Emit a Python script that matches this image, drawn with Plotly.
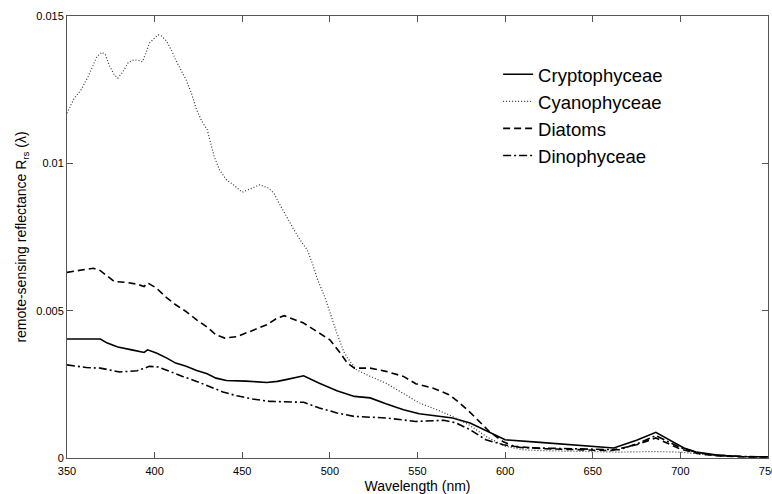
import plotly.graph_objects as go

# ---- data ----
crypto_x = [350, 369, 373, 379, 387, 394, 396, 401, 407, 412, 418, 424, 430, 435, 441, 452, 464, 470, 475, 485,
            494, 504, 514, 523, 532, 542, 551, 561, 570, 580, 591, 600, 618, 637, 662, 675, 686, 702, 709, 722, 735, 750]
crypto_y = [0.00404, 0.00404, 0.0039, 0.00377, 0.00367, 0.00358, 0.00367, 0.00356, 0.00339, 0.00322, 0.00311, 0.00297,
            0.00286, 0.00271, 0.00263, 0.00261, 0.00256, 0.0026, 0.00266, 0.00279, 0.00254, 0.00228, 0.00209, 0.00204,
            0.00184, 0.00164, 0.0015, 0.00143, 0.00136, 0.00119, 0.00087, 0.00062, 0.00054, 0.00045, 0.00034, 0.0006,
            0.00087, 0.00034, 0.0002, 0.00009, 0.00005, 0.00004]

cyano_x = [350, 354, 358, 362, 365, 367, 370, 372, 374, 377, 379, 382, 385, 388, 391, 393, 395, 397, 400, 402,
           404, 407, 410, 412, 415, 418, 421, 424, 427, 430, 432, 434, 437, 441, 445, 450, 454, 460, 465, 468,
           471, 475, 479, 483, 487, 490, 493, 497, 500, 504, 508, 510, 515, 523, 532, 542, 551, 561, 570, 580,
           590, 600, 610, 620, 650, 665, 686, 700, 720, 740, 750]
cyano_y = [0.0117, 0.0122, 0.01249, 0.01294, 0.01334, 0.01362, 0.01377, 0.01368, 0.01334, 0.0130, 0.01289, 0.01311,
           0.01343, 0.01351, 0.01349, 0.01345, 0.01374, 0.01408, 0.01425, 0.01436, 0.01432, 0.01413, 0.01379, 0.01351,
           0.01317, 0.01283, 0.01238, 0.01181, 0.01142, 0.01114, 0.01068, 0.01023, 0.00978, 0.00944, 0.00927, 0.00902,
           0.00912, 0.00927, 0.00916, 0.00899, 0.00865, 0.0082, 0.0078, 0.0074, 0.00707, 0.00661, 0.00605, 0.00548,
           0.00492, 0.00424, 0.0036, 0.0034, 0.003, 0.00277, 0.00254, 0.0022, 0.00187, 0.00164, 0.00141, 0.0011,
           0.0007, 0.0004, 0.00028, 0.00025, 0.00022, 0.0002, 0.00022, 0.0002, 0.00008, 0.00003, 0.00002]

diatom_x = [350, 357, 365, 369, 373, 377, 384, 390, 394, 396, 401, 407, 412, 418, 424, 430, 435, 440, 447, 454,
            464, 470, 474, 485, 494, 500, 506, 510, 514, 523, 532, 542, 549, 559, 568, 574, 580, 586, 591, 599,
            605, 620, 640, 660, 675, 686, 700, 710, 720, 735, 750]
diatom_y = [0.0063, 0.00636, 0.00644, 0.00636, 0.00616, 0.00599, 0.00596, 0.0059, 0.00582, 0.00594, 0.00577, 0.00543,
            0.0052, 0.00497, 0.00469, 0.00444, 0.00418, 0.00407, 0.00412, 0.00429, 0.00452, 0.00475, 0.00483, 0.00458,
            0.00424, 0.00401, 0.00356, 0.00322, 0.00305, 0.00305, 0.00294, 0.00277, 0.00252, 0.00237, 0.00215, 0.00187,
            0.00155, 0.00119, 0.0009, 0.00055, 0.0004, 0.00032, 0.00028, 0.00025, 0.00045, 0.00068, 0.0003, 0.00015,
            0.00008, 0.00004, 0.00003]

dino_x = [350, 361, 369, 380, 390, 397, 402, 409, 416, 424, 431, 439, 447, 456, 466, 485, 494, 504, 514, 532,
          549, 565, 572, 580, 589, 599, 610, 630, 650, 665, 676, 686, 700, 710, 720, 735, 750]
dino_y = [0.00316, 0.00307, 0.00305, 0.00292, 0.00296, 0.00311, 0.00309, 0.00292, 0.00277, 0.0026, 0.00243, 0.00224,
          0.00211, 0.002, 0.00192, 0.00189, 0.0017, 0.00153, 0.00141, 0.00136, 0.00124, 0.00128, 0.00119, 0.00096,
          0.00062, 0.00045, 0.00035, 0.00033, 0.0003, 0.00028, 0.0005, 0.00076, 0.00035, 0.00018, 0.0001, 0.00005,
          0.00004]

x_ticks = [350, 400, 450, 500, 550, 600, 650, 700, 750]
y_ticks = [0, 0.005, 0.01, 0.015]
y_tick_labels = ["0", "0.005", "0.01", "0.015"]

series = [
    ("Cryptophyceae", crypto_x, crypto_y, dict(color="black", width=1.6, dash="solid")),
    ("Cyanophyceae", cyano_x, cyano_y, dict(color="#333333", width=1.2, dash="1px,2px")),
    ("Diatoms", diatom_x, diatom_y, dict(color="black", width=1.6, dash="7px,4px")),
    ("Dinophyceae", dino_x, dino_y, dict(color="black", width=1.6, dash="8px,3px,2px,3px")),
]

fig = go.Figure()
for name, xs, ys, line in series:
    fig.add_trace(go.Scatter(x=xs, y=ys, mode="lines", name=name, line=line))

axis_common = dict(
    showline=True, linecolor="#555555", linewidth=1, mirror="ticks",
    ticks="inside", ticklen=6, tickcolor="#555555", tickwidth=1,
    showgrid=False, zeroline=False, ticklabeloverflow="allow", automargin=False,
    tickfont=dict(family="Arial, Liberation Sans, sans-serif", size=11, color="black"),
)

fig.update_layout(
    width=772, height=494,
    margin=dict(l=67, r=4, t=16, b=36),
    paper_bgcolor="white", plot_bgcolor="white",
    font=dict(family="Arial, Liberation Sans, sans-serif", color="black"),
    xaxis=dict(range=[350, 750], tickvals=x_ticks, ticklabelstandoff=3,
               title=dict(text="Wavelength (nm)", font=dict(size=14), standoff=5),
               **axis_common),
    yaxis=dict(range=[0, 0.015], tickvals=y_ticks, ticktext=y_tick_labels,
               title=dict(text="remote-sensing reflectance R<sub>rs</sub> (λ)", font=dict(size=14), standoff=6),
               **axis_common),
    legend=dict(x=0.615, y=0.910, xanchor="left", yanchor="top",
                bgcolor="rgba(0,0,0,0)", borderwidth=0,
                font=dict(size=18.5, color="black")),
    showlegend=True,
)

fig.write_html("out.html", config={"displayModeBar": False},
               post_script="document.body.style.margin='0';document.body.style.overflow='hidden';")
